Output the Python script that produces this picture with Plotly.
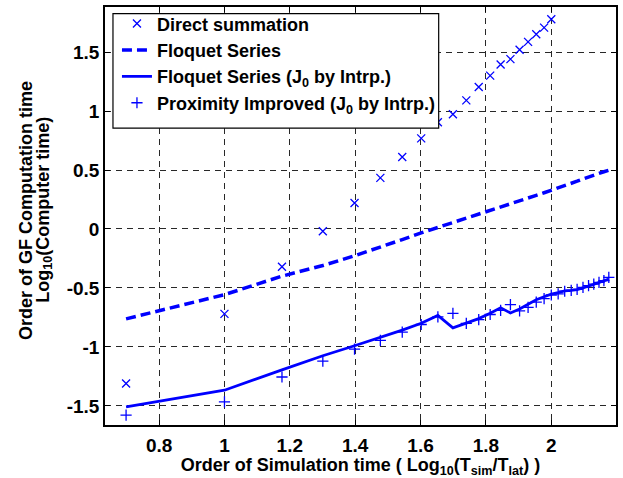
import plotly.graph_objects as go

# x = log10(T_sim/T_lat)
x_direct = [0.699, 1.0, 1.176, 1.301, 1.398, 1.477, 1.544, 1.602, 1.653, 1.699,
            1.740, 1.778, 1.813, 1.845, 1.875, 1.903, 1.929, 1.954, 1.978, 2.0]
y_direct = [-1.31, -0.72, -0.32, -0.02, 0.22, 0.433, 0.61, 0.768, 0.905, 0.973,
            1.09, 1.204, 1.30, 1.395, 1.44, 1.52, 1.586, 1.651, 1.707, 1.778]

x_all = [0.699, 1.0, 1.176, 1.301, 1.398, 1.477, 1.544, 1.602, 1.653, 1.699,
         1.740, 1.778, 1.813, 1.845, 1.875, 1.903, 1.929, 1.954, 1.978, 2.0,
         2.021, 2.041, 2.061, 2.079, 2.097, 2.114, 2.130, 2.146, 2.161, 2.176]

y_floquet = [-0.762, -0.557, -0.40, -0.31, -0.227, -0.155, -0.09, -0.033, 0.012, 0.055,
             0.09, 0.124, 0.155, 0.183, 0.21, 0.238, 0.262, 0.285, 0.307, 0.327,
             0.347, 0.366, 0.386, 0.405, 0.424, 0.443, 0.457, 0.471, 0.485, 0.498]

y_floquet_j0 = [-1.508, -1.367, -1.195, -1.075, -0.99, -0.92, -0.858, -0.80, -0.733, -0.838,
                -0.80, -0.76, -0.714, -0.668, -0.712, -0.678, -0.638, -0.60, -0.575, -0.553,
                -0.54, -0.525, -0.52, -0.514, -0.50, -0.485, -0.468, -0.452, -0.438, -0.425]

y_proximity = [-1.578, -1.466, -1.255, -1.12, -1.018, -0.945, -0.875, -0.81, -0.745, -0.716,
               -0.80, -0.768, -0.725, -0.69, -0.641, -0.695, -0.664, -0.62, -0.59, -0.56,
               -0.55, -0.528, -0.52, -0.512, -0.495, -0.48, -0.467, -0.453, -0.438, -0.41]

x_ticks = [0.8, 1.0, 1.2, 1.4, 1.6, 1.8, 2.0]
x_ticklabels = ["0.8", "1", "1.2", "1.4", "1.6", "1.8", "2"]
y_ticks = [-1.5, -1.0, -0.5, 0.0, 0.5, 1.0, 1.5]
y_ticklabels = ["-1.5", "-1", "-0.5", "0", "0.5", "1", "1.5"]

BLUE = "rgb(0,0,255)"
FONT = "Liberation Sans, Arial, Helvetica, sans-serif"

fig = go.Figure()
fig.add_trace(go.Scatter(
    x=x_direct, y=y_direct, mode="markers", name="Direct summation",
    marker=dict(symbol="x-thin", size=8, color=BLUE, line=dict(color=BLUE, width=1.3))))
fig.add_trace(go.Scatter(
    x=x_all, y=y_floquet, mode="lines", name="Floquet Series",
    line=dict(color=BLUE, width=3.5, dash="10px,5px")))
fig.add_trace(go.Scatter(
    x=x_all, y=y_floquet_j0, mode="lines", name="Floquet Series (J<sub>0</sub> by Intrp.)",
    line=dict(color=BLUE, width=2.8)))
fig.add_trace(go.Scatter(
    x=x_all, y=y_proximity, mode="markers", name="Proximity Improved (J<sub>0</sub> by Intrp.)",
    marker=dict(symbol="cross-thin", size=8, color=BLUE, line=dict(color=BLUE, width=1.3))))

axis_common = dict(
    showline=True, linecolor="black", linewidth=1.5, mirror="ticks",
    ticks="inside", ticklen=5, tickcolor="black", tickwidth=1,
    showgrid=True, gridcolor="rgb(40,40,40)", gridwidth=1, griddash="6px,5px",
    zeroline=False,
    tickfont=dict(family=FONT, size=19, color="black", weight="bold"),
)

fig.update_xaxes(range=[0.6345, 2.198], tickvals=x_ticks, ticktext=x_ticklabels,
                 ticklabelstandoff=2,
                 title=dict(text="Order of Simulation time ( Log<sub>10</sub>(T<sub>sim</sub>/T<sub>lat</sub>) )",
                            font=dict(family=FONT, size=18, color="black", weight="bold"),
                            standoff=0),
                 **axis_common)
fig.update_yaxes(range=[-1.662, 1.882], tickvals=y_ticks, ticktext=y_ticklabels, **axis_common)

fig.add_annotation(text="Order of GF Computation time", xref="paper", yref="paper",
                   x=-0.155, y=0.514, xanchor="center", yanchor="middle", textangle=-90,
                   showarrow=False,
                   font=dict(family=FONT, size=18, color="black", weight="bold"))
fig.add_annotation(text="Log<sub>10</sub>(Computer time)", xref="paper", yref="paper",
                   x=-0.12, y=0.514, xanchor="center", yanchor="middle", textangle=-90,
                   showarrow=False,
                   font=dict(family=FONT, size=18, color="black", weight="bold"))

# legend frame (drawn as a shape so the entries can sit closer to its top edge)
fig.add_shape(type="rect", xref="paper", yref="paper",
              x0=0.0156, x1=0.653, y0=0.7102, y1=0.984,
              fillcolor="white", line=dict(color="black", width=1.2), layer="above")

fig.update_layout(
    width=623, height=478,
    margin=dict(l=105, r=5, t=5, b=53),
    paper_bgcolor="white", plot_bgcolor="white",
    showlegend=True,
    legend=dict(x=0.0234, y=1.004, xanchor="left", yanchor="top",
                bgcolor="rgba(0,0,0,0)", borderwidth=0,
                font=dict(family=FONT, size=18, color="black", weight="bold"),
                itemwidth=30, tracegroupgap=0),
)

fig.write_html("out.html")
